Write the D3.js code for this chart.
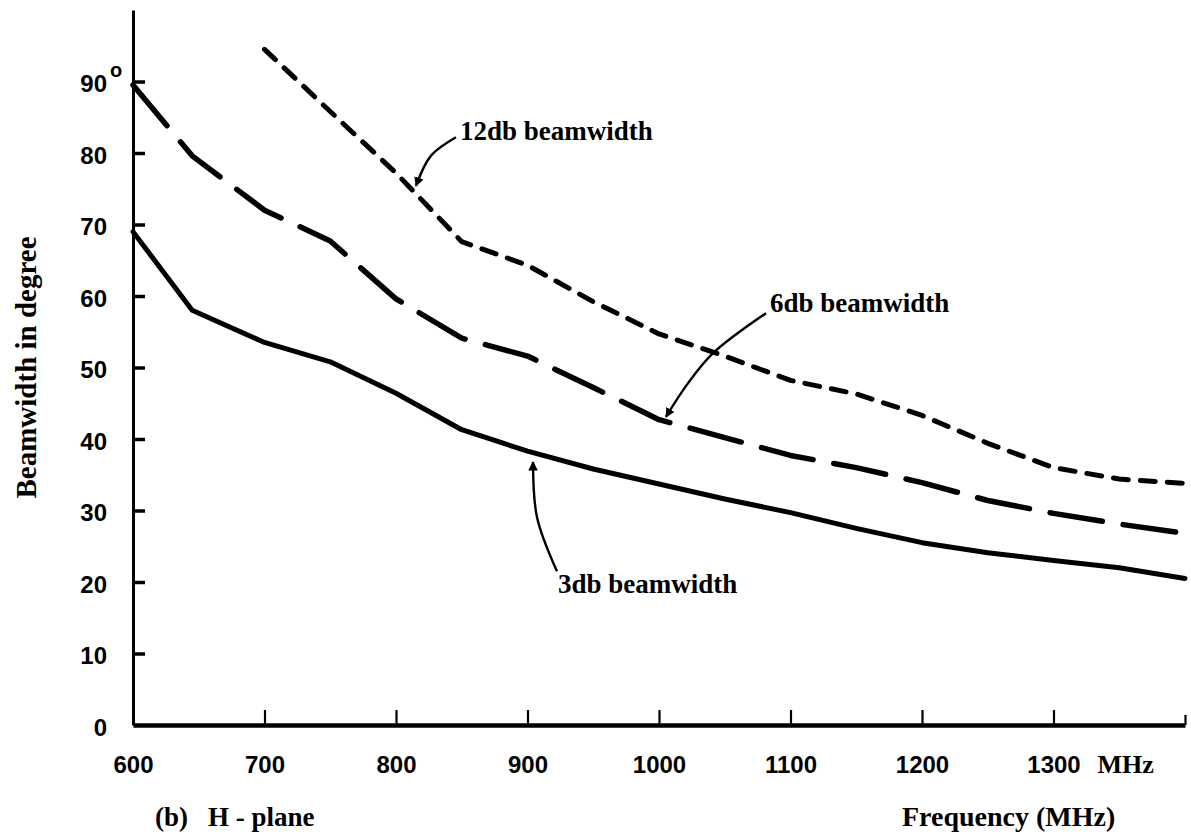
<!DOCTYPE html>
<html>
<head>
<meta charset="utf-8">
<script src="https://cdn.jsdelivr.net/npm/d3@7"></script>
<style>
  html, body { margin: 0; padding: 0; background: #fff; }
  svg { display: block; }
  .num { font-family: "Liberation Sans", Arial, sans-serif; font-weight: bold; font-size: 24px; fill: #000; }
  .lbl { font-family: "Liberation Serif", "Times New Roman", serif; font-weight: bold; font-size: 27px; fill: #000; }
</style>
</head>
<body>
<svg id="chart" width="1191" height="837"></svg>
<script>
// Beamwidth vs frequency, H-plane
const freq3  = [600, 645, 700, 750, 800, 850, 900, 950, 1000, 1050, 1100, 1150, 1200, 1250, 1300, 1350, 1400];
const bw3db  = [69, 58, 53.5, 50.8, 46.4, 41.3, 38.3, 35.8, 33.7, 31.6, 29.7, 27.5, 25.5, 24.1, 23.0, 22.0, 20.5];

const freq6  = [600, 645, 700, 750, 800, 850, 900, 950, 1000, 1050, 1100, 1150, 1200, 1250, 1300, 1350, 1400];
const bw6db  = [89.5, 79.6, 72, 67.7, 59.6, 54.1, 51.6, 47.2, 42.7, 40.2, 37.7, 36.0, 33.9, 31.4, 29.6, 28.1, 26.8];

const freq12 = [700, 750, 800, 850, 900, 950, 1000, 1050, 1100, 1150, 1200, 1250, 1300, 1350, 1400];
const bw12db = [94.5, 85.8, 77.2, 67.6, 64.3, 59.2, 54.7, 51.6, 48.2, 46.3, 43.3, 39.4, 36.0, 34.4, 33.8];

const xTicks = [600, 700, 800, 900, 1000, 1100, 1200, 1300, 1400];
const xTickLabels = ["600", "700", "800", "900", "1000", "1100", "1200", "1300", ""];
const yTicks = [0, 10, 20, 30, 40, 50, 60, 70, 80, 90];

// Curve labels with their leader arrows, in data units (MHz, degrees)
const labelNames = ["12db beamwidth", "6db beamwidth", "3db beamwidth"];
const labelAnchors = [[848.7, 81.8], [1084.4, 57.8], [923.2, 18.5]];
const leaderPaths = [
  [[845.6, 82.2], [826.5, 79.6], [815.2, 75.4]],
  [[1081.4, 57.6], [1041.1, 52.0], [1021.3, 47.6], [1005.3, 43.1]],
  [[922.4, 21.5], [907.2, 29.1], [904.2, 36.8]]
];

const svg = d3.select("#chart");

const x = d3.scaleLinear().domain([600, 1400]).range([133, 1185]);
const y = d3.scaleLinear().domain([0, 100]).range([725, 10]);

// arrowhead marker
svg.append("defs").append("marker")
  .attr("id", "head")
  .attr("viewBox", "0 0 10 10")
  .attr("refX", 9).attr("refY", 5)
  .attr("markerWidth", 4).attr("markerHeight", 4)
  .attr("markerUnits", "strokeWidth")
  .attr("orient", "auto")
  .append("path").attr("d", "M0,0 L10,5 L0,10 Z").attr("fill", "#000");

// y axis: ticks point into the plot
const yAxis = d3.axisLeft(y).tickValues(yTicks).tickSizeInner(-12).tickSizeOuter(0).tickPadding(26);
const gy = svg.append("g").attr("transform", `translate(${x(600)},0)`).call(yAxis);
gy.select(".domain").attr("stroke", "#000").attr("stroke-width", 3);
gy.selectAll(".tick line").attr("stroke", "#000").attr("stroke-width", 3.5);
gy.selectAll(".tick text").attr("class", "num").attr("dy", "0.42em");
gy.selectAll(".tick").filter(d => d === 0).select("line").remove();

// degree mark on the top label
gy.selectAll(".tick").filter(d => d === 90).append("text")
  .attr("class", "num").attr("x", -23).attr("y", -5)
  .style("font-size", "20px").attr("text-anchor", "start").text("o");

// x axis: ticks point up
const xAxis = d3.axisBottom(x).tickValues(xTicks).tickFormat((d, i) => xTickLabels[i])
  .tickSizeInner(-15).tickSizeOuter(0).tickPadding(31);
const gx = svg.append("g").attr("transform", `translate(0,${y(0)})`).call(xAxis);
gx.select(".domain").attr("stroke", "#000").attr("stroke-width", 4.5);
gx.selectAll(".tick line").attr("stroke", "#000").attr("stroke-width", 2.2);
gx.selectAll(".tick text").attr("class", "num");
gx.selectAll(".tick").filter(d => d === 600).select("line").remove();
gx.selectAll(".tick").filter(d => d === 1400).select("line").attr("y2", -10);

// unit after the last label
svg.append("text").attr("class", "lbl")
  .attr("x", x(1300) + 44).attr("y", y(0) + 48)
  .style("font-size", "26px").text("MHz");

// series lines
const line = d3.line().x(d => x(d[0])).y(d => y(d[1]));
const series = [
  { f: freq3,  v: bw3db,  width: 5,   dash: null },
  { f: freq6,  v: bw6db,  width: 5.5, dash: "53,21" },
  { f: freq12, v: bw12db, width: 5,   dash: "15,12" }
];
series.forEach(s => {
  svg.append("path")
    .datum(d3.zip(s.f, s.v))
    .attr("d", line)
    .attr("fill", "none")
    .attr("stroke", "#000")
    .attr("stroke-width", s.width)
    .attr("stroke-linecap", "round")
    .attr("stroke-linejoin", "round")
    .attr("stroke-dasharray", s.dash);
});

// curve labels and leader arrows
const leader = d3.line().x(d => x(d[0])).y(d => y(d[1])).curve(d3.curveCatmullRom.alpha(0.5));
labelNames.forEach((name, i) => {
  svg.append("text").attr("class", "lbl")
    .attr("x", x(labelAnchors[i][0])).attr("y", y(labelAnchors[i][1]))
    .text(name);
  svg.append("path")
    .attr("d", leader(leaderPaths[i]))
    .attr("fill", "none").attr("stroke", "#000").attr("stroke-width", 2.4)
    .attr("marker-end", "url(#head)");
});

// axis titles
svg.append("text").attr("class", "lbl")
  .attr("transform", `translate(36,${y(50)}) rotate(-90)`)
  .attr("text-anchor", "middle").style("font-size", "29px")
  .text("Beamwidth in degree");

svg.append("text").attr("class", "lbl")
  .attr("x", 155).attr("y", 826)
  .text("(b)");
svg.append("text").attr("class", "lbl")
  .attr("x", 208).attr("y", 826)
  .text("H - plane");

svg.append("text").attr("class", "lbl")
  .attr("x", 902).attr("y", 826)
  .style("font-size", "28px")
  .text("Frequency (MHz)");
</script>
</body>
</html>
